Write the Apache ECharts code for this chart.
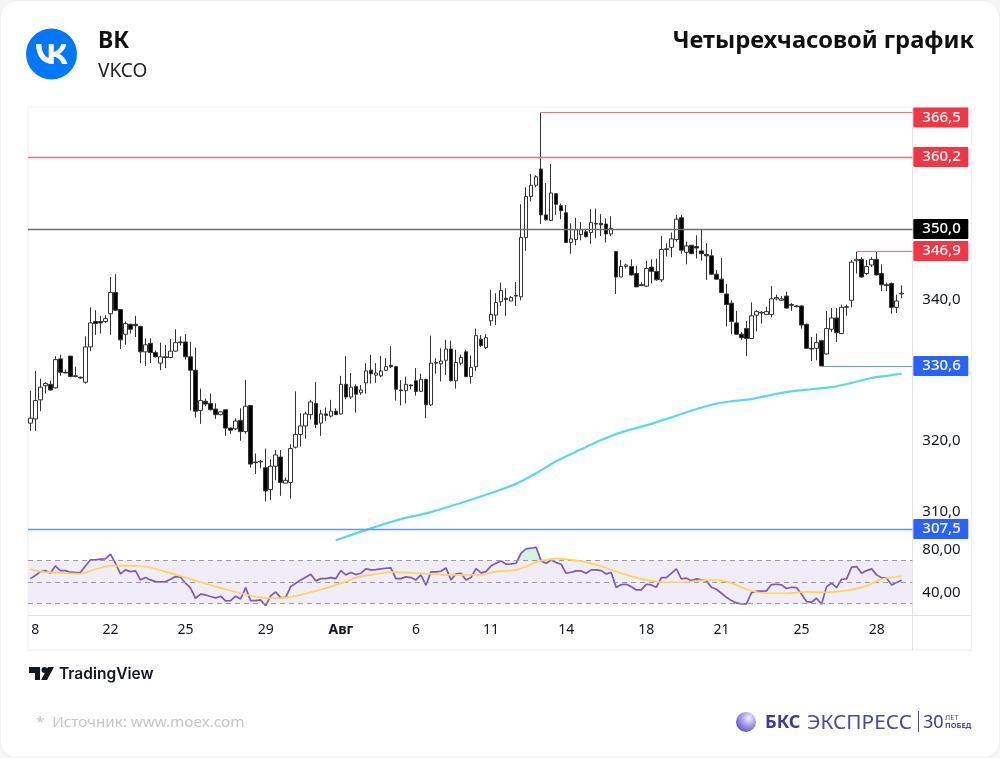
<!DOCTYPE html>
<html>
<head>
<meta charset="utf-8">
<title>ВК VKCO</title>
<script src="https://cdn.jsdelivr.net/npm/echarts@6/dist/echarts.min.js"></script>
<style>
  html, body { margin: 0; padding: 0; background: #fff; }
  #main { width: 1000px; height: 758px; }
</style>
</head>
<body>
<div id="main"></div>
<script>
// свечи, 4 часа
var opens = [
  322.5,323.1,325.8,327.8,328.0,327.5,331.6,329.7,332.0,329.2,
  329.0,328.3,333.3,336.9,336.9,336.9,338.0,341.0,338.6,335.1,
  336.5,336.5,336.2,332.6,333.8,332.5,331.0,331.9,331.8,332.7,
  334.0,334.0,331.9,330.0,324.3,325.6,325.3,324.5,323.7,324.4,
  321.8,321.7,322.9,321.3,325.0,317.0,317.0,316.2,313.1,316.4,
  317.7,314.0,314.1,319.1,320.9,322.1,323.7,325.3,322.5,323.8,
  323.5,324.2,323.8,328.0,326.2,327.7,326.8,328.2,330.0,329.3,
  329.2,330.0,330.7,330.5,327.2,327.1,327.9,328.5,327.0,328.7,
  325.1,331.0,330.9,331.4,333.0,328.5,331.0,332.6,329.1,330.5,
  334.4,333.2,337.0,337.8,339.7,340.2,339.8,340.6,340.4,348.8,
  354.6,356.2,358.5,352.0,351.2,355.0,353.3,352.3,348.1,348.5,
  349.2,349.6,349.5,350.8,350.8,350.7,349.3,346.8,343.2,344.7,
  344.7,343.7,342.1,341.9,344.6,344.0,342.8,347.1,347.4,348.5,
  351.6,346.7,347.7,347.5,346.9,346.4,346.2,343.6,342.9,340.8,
  339.5,336.7,335.1,335.9,334.5,337.8,338.2,337.9,337.9,340.1,
  339.9,340.5,339.3,339.1,339.1,336.5,333.1,333.1,334.2,332.3,
  335.8,337.4,335.2,338.9,339.9,345.5,345.7,343.7,344.9,345.7,
  343.7,342.1,342.3,338.9,340.8
];
var closes = [
  323.2,325.7,327.6,328.1,327.2,331.5,329.7,329.6,329.1,329.1,
  328.9,333.3,336.7,336.6,336.7,337.3,341.0,338.5,334.3,336.6,
  335.8,336.3,332.6,333.6,332.5,331.9,331.9,331.8,332.7,333.9,
  333.9,331.9,330.0,324.2,325.7,325.2,324.4,323.7,324.1,321.8,
  321.5,322.8,321.3,324.9,316.7,316.9,317.1,312.9,316.4,318.0,
  314.1,314.4,318.9,320.9,322.1,323.8,325.5,322.3,323.8,323.6,
  324.2,323.7,328.0,326.2,327.6,326.6,327.2,329.9,329.5,329.6,
  329.9,330.5,330.5,327.3,327.1,328.0,327.8,327.0,328.7,325.1,
  331.0,331.1,331.3,333.0,328.5,331.1,331.8,329.1,330.4,334.9,
  333.5,334.6,337.9,339.6,341.3,340.0,340.3,340.5,348.8,354.6,
  356.2,357.4,352.0,351.3,355.1,353.5,352.6,348.1,348.6,349.9,
  349.9,348.9,350.9,350.7,350.6,349.3,350.1,343.2,344.7,344.9,
  343.5,341.8,342.0,344.4,344.0,342.8,347.1,347.2,348.6,351.4,
  347.0,347.6,346.5,347.3,346.5,346.2,343.6,342.9,341.0,339.3,
  336.9,335.1,334.6,334.5,337.7,338.3,338.1,338.3,340.1,340.3,
  340.1,338.8,339.2,339.0,336.4,333.1,333.0,333.9,330.6,335.9,
  337.4,335.3,338.9,339.0,345.3,345.7,343.2,344.7,345.7,343.5,
  342.1,342.0,338.9,339.8,340.9
];
var lows = [
  321.4,321.4,324.2,326.7,327.1,327.4,329.2,329.6,329.0,329.0,
  328.8,328.1,332.7,335.0,335.2,336.7,335.0,338.4,333.0,333.6,
  335.2,334.7,331.0,330.6,331.0,331.8,330.0,330.3,331.7,332.6,
  333.5,331.5,324.3,323.3,322.4,324.9,324.3,323.1,323.6,320.7,
  321.0,321.5,320.0,321.0,316.2,315.3,316.1,311.4,311.6,314.4,
  312.2,314.0,311.8,318.9,319.2,320.3,323.0,321.8,320.7,322.8,
  323.3,323.7,323.7,325.9,325.9,324.0,326.5,326.7,328.1,328.2,
  329.0,329.9,330.3,325.7,325.0,325.3,327.3,326.4,326.9,323.2,
  324.9,329.5,328.4,329.3,328.4,327.4,330.7,329.0,328.1,329.9,
  333.3,333.0,336.3,336.4,339.1,337.7,339.8,339.1,339.9,346.9,
  353.9,355.9,350.7,351.2,351.2,352.0,351.4,348.0,346.5,347.7,
  348.4,348.8,347.9,348.7,349.0,348.1,349.0,340.8,343.2,344.4,
  343.4,341.8,341.9,341.8,342.3,342.7,342.5,346.1,346.0,348.2,
  346.5,345.0,346.5,345.8,345.5,342.8,343.5,342.8,340.9,336.2,
  335.1,335.0,334.3,332.0,334.4,335.5,336.6,337.8,337.5,339.9,
  339.8,338.7,338.4,338.9,335.9,333.0,331.3,331.4,330.6,332.2,
  335.4,334.0,335.1,337.7,338.9,343.7,343.1,343.5,344.6,343.4,
  341.2,341.2,338.0,338.1,340.2
];
var highs = [
  327.1,329.9,328.8,328.3,328.5,332.0,332.2,330.1,332.0,330.5,
  329.1,334.8,338.9,338.5,337.7,337.8,343.2,343.6,338.6,336.9,
  336.6,337.7,336.3,334.5,334.5,332.8,333.9,333.6,334.4,335.8,
  334.8,335.1,334.0,333.2,327.4,326.0,326.7,325.3,324.2,324.4,
  321.9,323.2,324.6,328.6,325.0,318.2,317.3,318.9,317.4,318.7,
  318.7,314.8,319.5,327.0,323.9,324.1,325.8,328.3,324.4,324.7,
  325.8,324.6,329.2,332.0,329.6,328.0,327.9,331.0,332.2,331.0,
  332.0,331.7,333.4,330.6,328.6,329.1,328.0,330.3,329.5,328.8,
  334.9,331.7,333.1,334.3,334.2,332.9,332.2,332.9,332.1,335.9,
  335.0,335.1,341.4,340.9,342.4,341.6,340.5,342.5,353.5,355.9,
  357.8,357.6,366.5,356.5,359.2,355.1,353.6,353.4,350.8,351.6,
  351.0,349.9,352.8,352.9,352.1,351.5,351.8,346.9,345.6,345.1,
  345.7,344.8,342.5,345.5,345.7,345.8,349.0,348.0,349.5,352.0,
  352.0,348.2,347.7,349.1,349.9,348.0,347.1,344.2,345.9,342.2,
  339.9,338.4,335.4,337.0,339.6,338.5,338.4,339.0,341.9,340.7,
  340.5,341.1,339.5,339.2,339.2,336.6,334.7,335.2,334.3,338.4,
  338.8,338.8,339.3,339.3,345.6,346.8,346.0,345.6,346.0,346.8,
  345.0,342.4,342.4,340.7,342.0
];

// длинная средняя, снято по точкам графика
var maCandles = [61,68,74,80,86,92,97,101,105,110,114,118,124,130,136,140,144,148,152,156,160,164,168,171,174];
var maValues = [305.9,307.6,308.9,309.9,311.2,312.6,313.9,315.4,317.1,318.8,320.1,321.2,322.4,323.8,325.1,325.6,325.9,326.5,327.0,327.3,327.6,328.2,328.9,329.2,329.5];

var rsiValues = [
  53.1,56.0,59.4,60.6,58.1,65.0,60.6,60.6,59.1,58.8,58.8,65.0,70.6,70.6,71.3,71.6,76.0,67.5,57.5,61.3,
  59.7,60.3,51.9,54.1,51.9,50.3,50.0,50.3,52.5,55.0,54.4,48.8,44.1,34.7,38.5,37.8,36.3,35.0,36.6,32.2,
  32.5,36.6,34.1,44.7,32.5,32.5,33.1,27.8,36.9,40.6,35.3,35.6,45.6,48.8,51.9,54.4,57.2,51.0,53.1,53.1,
  54.1,53.1,60.6,56.6,58.8,56.9,58.1,62.2,61.3,61.6,62.2,62.8,63.1,53.1,53.1,54.7,54.1,51.9,56.6,46.9,
  59.4,59.4,60.0,63.1,51.9,57.5,58.1,51.9,54.1,62.5,58.5,59.7,65.0,67.5,69.7,66.6,66.9,67.5,76.9,81.0,
  81.6,82.5,69.7,67.5,70.6,68.1,66.6,58.1,59.1,60.3,60.3,58.1,61.3,61.3,60.6,57.5,58.8,44.7,47.5,47.8,
  45.6,42.5,42.5,47.8,47.2,45.0,54.1,54.1,58.1,62.2,52.8,53.5,51.3,52.8,51.9,51.0,45.0,43.1,39.4,35.6,
  32.5,30.3,29.4,29.4,40.0,41.3,41.3,41.6,47.5,47.8,47.2,43.8,45.0,44.7,38.5,31.6,31.0,34.7,29.1,45.6,
  48.8,44.7,52.5,52.8,63.8,64.4,58.1,60.6,62.2,56.6,53.8,53.5,47.2,49.4,51.6
];
var rsiMaCandles = [0,2,5,10,13,16,18,21,24,27,30,34,38,42,46,49,51,54,57,60,64,65,68,72,75,80,85,90,93,97,100,102,105,108,111,115,119,123,127,130,135,139,143,147,151,155,158,163,167,170,174];
var rsiMaValues = [61.9,59.7,58.8,57.5,61.9,65.0,65.3,65.0,63.5,59.4,55.6,49.7,44.4,39.4,35.3,34.7,35.3,37.8,41.6,45.6,51.9,54.1,56.6,59.1,58.8,57.5,56.6,56.6,59.7,61.3,66.6,69.7,71.9,70.6,68.5,63.1,56.6,51.9,49.7,49.7,51.6,50.3,43.1,39.4,39.4,40.6,40.3,41.9,46.3,52.5,55.3];
var rsiBand = [30, 70];
var rsiLevels = [70, 50, 30];
var rsiOverCandles = [97,98,99,100,101,102];

// подписи осей
var xTickCandles = [1,16,31,47,62,77,92,107,123,138,154,169];
var xTickLabels = ['8','22','25','29','Авг','6','11','14','18','21','25','28'];
var priceTicks = [310, 320, 340];
var rsiTicks = [40, 80];

// уровни и ярлыки справа
var levelPrices = [366.5, 360.2, 350.0, 346.9, 330.6, 307.5];
var levelStarts = [102, 0, 0, 165, 158, 0];
var tagPrices = [365.8, 360.2, 350.0, 346.9, 330.6, 307.5];
var tagLabels = ['366,5', '360,2', '350,0', '346,9', '330,6', '307,5'];
var tagColors = ['#f23645', '#f23645', '#000000', '#f23645', '#2962ff', '#2962ff'];
var lineColors = ['#f4717d', '#f4717d', '#6e6e6e', '#f4717d', '#6c93f7', '#6c93f7'];
var lineWidths = [1, 1.3, 1.3, 1, 1, 1.3];

var FONT = '"Noto Sans", sans-serif';
var X_MIN = -0.46, X_MAX = 176.12;

var candleData = opens.map(function(o, i){
  return [i, o, closes[i], lows[i], highs[i]];
});
function pairs(xs, ys){
  return xs.map(function(x, i){ return [x, ys[i]]; });
}

var levelLines = levelPrices.map(function(p, i){
  return [
    { xAxis: levelStarts[i] === 0 ? X_MIN : levelStarts[i], yAxis: p, label: { show: false },
      lineStyle: { color: lineColors[i], width: lineWidths[i], type: 'solid', opacity: 1 } },
    { xAxis: X_MAX, yAxis: p }
  ];
});
var tagLines = tagPrices.map(function(p, i){
  return [
    { xAxis: X_MAX - 1, yAxis: p, lineStyle: { color: 'transparent', width: 0 },
      label: {
        show: true, position: 'end', distance: 1, formatter: tagLabels[i],
        color: '#fff', fontFamily: FONT, fontSize: 15, fontWeight: 500,
        backgroundColor: tagColors[i], borderRadius: 1,
        width: 46, height: 20, lineHeight: 20, padding: [0, 0, 0, 9]
      } },
    { xAxis: X_MAX, yAxis: p }
  ];
});

// значок ВК: в graphic нет типа path, регистрируем свой
echarts.graphic.registerShape('vkGlyph', echarts.graphic.extendPath(
  'M13.162 18.994c-6.098 0-9.576-4.18-9.721-11.136h3.055c.1 5.105 2.352 7.268 4.137 7.713V7.858h2.877v4.403c1.762-.19 3.613-2.196 4.237-4.403h2.877c-.48 2.72-2.487 4.726-3.915 5.55 1.428.668 3.714 2.416 4.584 5.586h-3.167c-.68-2.12-2.373-3.76-4.616-3.983v3.983h-.348z',
  {}
));

var chart = echarts.init(document.getElementById('main'));
chart.setOption({
  animation: false,
  backgroundColor: '#f6f6f6',
  grid: [
    { left: 28, right: 87.7, top: 107, height: 433 },
    { left: 28, right: 87.7, top: 540, height: 75 }
  ],
  xAxis: [
    { type: 'value', gridIndex: 0, min: X_MIN, max: X_MAX, show: false, splitLine: { show: false } },
    {
      type: 'value', gridIndex: 1, min: X_MIN, max: X_MAX,
      axisLine: { show: false }, axisTick: { show: false }, splitLine: { show: false },
      axisLabel: {
        customValues: xTickCandles, margin: 8, color: '#131722', fontFamily: FONT, fontSize: 14,
        formatter: function(v){
          var s = xTickLabels[xTickCandles.indexOf(v)];
          return s === 'Авг' ? '{b|' + s + '}' : s;
        },
        rich: { b: { fontWeight: 'bold', fontFamily: FONT, fontSize: 14, color: '#131722' } }
      }
    }
  ],
  yAxis: [
    {
      type: 'value', gridIndex: 0, position: 'right', min: 305.95, max: 367.28, scale: true,
      axisLine: { show: false }, axisTick: { show: false }, splitLine: { show: false },
      axisLabel: {
        customValues: priceTicks, margin: 10, color: '#131722', fontFamily: FONT, fontSize: 15,
        formatter: function(v){ return v.toFixed(1).replace('.', ','); }
      }
    },
    {
      type: 'value', gridIndex: 1, position: 'right', min: 19, max: 89.3, scale: true,
      axisLine: { show: false }, axisTick: { show: false }, splitLine: { show: false },
      axisLabel: {
        customValues: rsiTicks, margin: 10, color: '#131722', fontFamily: FONT, fontSize: 15,
        formatter: function(v){ return v.toFixed(2).replace('.', ','); }
      }
    }
  ],
  series: [
    {
      name: 'VKCO', type: 'candlestick', xAxisIndex: 0, yAxisIndex: 0, barWidth: 4, data: candleData,
      itemStyle: { color: '#ffffff', color0: '#000000', borderColor: '#333333', borderColor0: '#333333', borderWidth: 1 },
      markLine: { silent: true, symbol: ['none', 'none'], data: levelLines.concat(tagLines), animation: false }
    },
    {
      name: 'MA', type: 'line', xAxisIndex: 0, yAxisIndex: 0, showSymbol: false, smooth: 0.3,
      data: pairs(maCandles, maValues), lineStyle: { color: '#5cd9e6', width: 2.2 }, z: 3
    },
    {
      name: 'RSI band', type: 'line', xAxisIndex: 1, yAxisIndex: 1, data: [], silent: true,
      markArea: {
        silent: true, itemStyle: { color: '#f0ecf9' },
        data: [[{ xAxis: X_MIN, yAxis: rsiBand[0] }, { xAxis: X_MAX, yAxis: rsiBand[1] }]]
      },
      markLine: {
        silent: true, symbol: ['none', 'none'], label: { show: false },
        lineStyle: { color: '#9a9a9a', type: [5, 4], width: 1 },
        data: rsiLevels.map(function(l){
          return [{ xAxis: X_MIN, yAxis: l }, { xAxis: X_MAX, yAxis: l }];
        })
      }
    },
    {
      name: 'RSI over', type: 'line', xAxisIndex: 1, yAxisIndex: 1, showSymbol: false, lineStyle: { width: 0 },
      areaStyle: { origin: rsiBand[1], color: '#d8f0de', opacity: 1 },
      data: rsiOverCandles.map(function(i){ return [i, Math.max(rsiValues[i], rsiBand[1])]; })
    },
    {
      name: 'RSI', type: 'line', xAxisIndex: 1, yAxisIndex: 1, showSymbol: false,
      data: rsiValues.map(function(v, i){ return [i, v]; }),
      lineStyle: { color: '#7e57c2', width: 1.7 }, z: 4
    },
    {
      name: 'RSI MA', type: 'line', xAxisIndex: 1, yAxisIndex: 1, showSymbol: false, smooth: 0.4,
      data: pairs(rsiMaCandles, rsiMaValues),
      lineStyle: { color: '#ffd54a', width: 1.7 }, z: 5
    }
  ],
  graphic: [
    // карточка и рамка графика
    { type: 'rect', z: -10, shape: { x: 0.5, y: 0.5, width: 999, height: 757, r: 16 }, style: { fill: '#fff', stroke: '#efefef' } },
    { type: 'rect', z: -5, shape: { x: 28, y: 107, width: 943.5, height: 543 }, style: { fill: 'none', stroke: '#f0f0f2' } },
    { type: 'line', z: -5, shape: { x1: 912.5, y1: 107, x2: 912.5, y2: 650 }, style: { stroke: '#e0e3eb' } },
    { type: 'line', z: -5, shape: { x1: 28, y1: 615.5, x2: 971, y2: 615.5 }, style: { stroke: '#e3e3e3', lineWidth: 1 } },
    // логотип ВК
    { type: 'circle', shape: { cx: 51.5, cy: 54, r: 25.5 }, style: { fill: '#0077ff' } },
    { type: 'vkGlyph', x: 29.93, y: 29.9, scaleX: 1.765, scaleY: 1.795, style: { fill: '#fff' } },
    { type: 'text', style: { x: 98, y: 41, text: 'ВК', font: 'bold 23px ' + FONT, fill: '#111', verticalAlign: 'middle' } },
    { type: 'text', style: { x: 98, y: 72, text: 'VKCO', font: '19px ' + FONT, fill: '#222', verticalAlign: 'middle' } },
    { type: 'text', style: { x: 974, y: 41, text: 'Четырехчасовой график', font: 'bold 23.7px ' + FONT, fill: '#111', align: 'right', verticalAlign: 'middle' } },
    // TradingView
    { type: 'polygon', shape: { points: [[29, 667], [40, 667], [40, 680], [35, 680], [35, 673], [29, 673]] }, style: { fill: '#131722' } },
    { type: 'circle', shape: { cx: 44.5, cy: 670, r: 3 }, style: { fill: '#131722' } },
    { type: 'polygon', shape: { points: [[48, 667], [54, 667], [47, 680], [41, 680]] }, style: { fill: '#131722' } },
    { type: 'text', style: { x: 59, y: 674, text: 'TradingView', font: '600 15.5px Inter, ' + FONT, fill: '#131722', verticalAlign: 'middle' } },
    // подвал
    { type: 'text', style: { x: 36, y: 723, text: '*  Источник: www.moex.com', font: '15.2px ' + FONT, fill: '#c6c6c6', verticalAlign: 'middle' } },
    {
      type: 'circle', shape: { cx: 746, cy: 722, r: 10 },
      style: { fill: new echarts.graphic.RadialGradient(0.65, 0.3, 0.8, [
        { offset: 0, color: '#f4f2ff' }, { offset: 0.45, color: '#aaa0ec' }, { offset: 1, color: '#5a48c8' }
      ]) }
    },
    { type: 'text', style: { x: 765, y: 723, text: 'БКС', font: 'bold 18px ' + FONT, fill: '#3c3a9c', verticalAlign: 'middle' } },
    { type: 'text', style: { x: 807, y: 723, text: 'ЭКСПРЕСС', font: '20.8px ' + FONT, fill: '#4a47a8', verticalAlign: 'middle' } },
    { type: 'line', shape: { x1: 918.5, y1: 711, x2: 918.5, y2: 732 }, style: { stroke: '#4a47a8', lineWidth: 1 } },
    { type: 'text', style: { x: 923, y: 723, text: '30', font: '18px ' + FONT, fill: '#3c3a9c', verticalAlign: 'middle' } },
    { type: 'text', style: { x: 945, y: 718, text: 'ЛЕТ', font: '7.5px ' + FONT, fill: '#4a47a8', verticalAlign: 'middle' } },
    { type: 'text', style: { x: 945, y: 726, text: 'ПОБЕД', font: 'bold 7.5px ' + FONT, fill: '#4a47a8', verticalAlign: 'middle' } }
  ]
});
</script>
</body>
</html>
